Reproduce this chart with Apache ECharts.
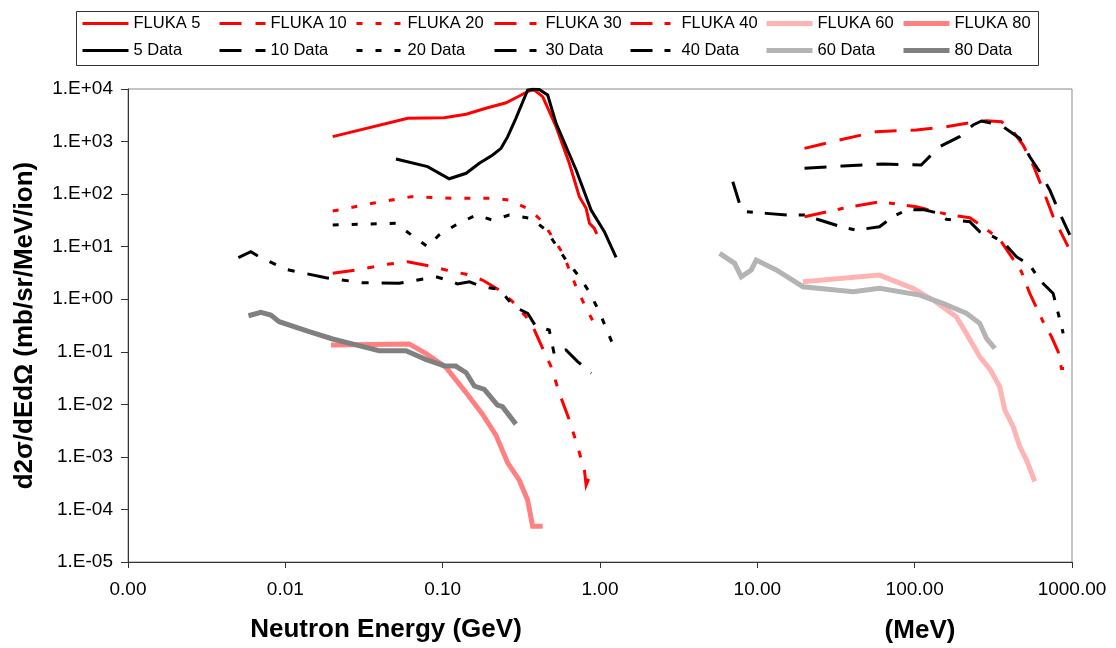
<!DOCTYPE html>
<html>
<head>
<meta charset="utf-8">
<script src="https://cdn.jsdelivr.net/npm/echarts@6/dist/echarts.min.js"></script>
<style>
html, body { margin: 0; padding: 0; background: #fff; }
#chart { width: 1116px; height: 648px; }
</style>
</head>
<body>
<div id="chart"></div>
<script>
var FONT = "'Liberation Sans', Arial, sans-serif";

// left part: GeV, right part: MeV (same log axis)
var fluka5 = [[0.020,1240],[0.060,2770],[0.102,2850],[0.141,3300],[0.188,4300],[0.253,5480],[0.307,7360],[0.356,9290],[0.383,9560],[0.432,7150],[0.526,1920],[0.638,385],[0.739,89],[0.816,53.6],[0.857,27.8],[0.921,22.3],[0.953,17.4]];
var fluka10 = [[19.95,743],[33.3,1072],[57,1542],[102.5,1660],[159,1920],[224,2285],[286,2500],[356,2390],[423,1542],[489,859],[566,358],[655,120],[759,37.2],[857,17.9],[944,10]];
var fluka20 = [[0.020,47.6],[0.0358,66.8],[0.0628,89],[0.1155,83],[0.208,83],[0.265,77],[0.356,51],[0.432,29.8],[0.580,7.47],[0.705,1.73],[0.816,0.67],[0.945,0.30]];
var fluka30 = [[0.020,3.11],[0.0281,3.6],[0.0457,4.68],[0.0598,5.18],[0.0822,4.29],[0.105,3.6],[0.141,2.98],[0.179,2.32],[0.229,1.50],[0.278,0.90],[0.339,0.464],[0.383,0.259],[0.432,0.116],[0.489,0.052],[0.552,0.0162],[0.639,0.0050],[0.721,0.00156],[0.796,0.00056],[0.816,0.00029],[0.865,0.00045]];
var fluka40 = [[19.95,37.2],[35,53.6],[59.8,71.6],[76.5,64.8],[102.5,57.5],[167,40],[224,35.6],[272,23.9],[347,13.8],[412,6.44],[477,3.34],[539,1.29],[655,0.373],[741,0.193],[817,0.100],[857,0.048],[923,0.048]];
var fluka60 = [[19.5,2.15],[59.8,2.88],[97.5,1.61],[131,0.966],[184,0.464],[213,0.224],[259,0.081],[303,0.045],[347,0.0216],[374,0.0078],[423,0.00375],[466,0.00156],[514,0.00087],[580,0.00034]];
var fluka80 = [[0.0195,0.135],[0.0613,0.141],[0.078,0.093],[0.105,0.0506],[0.141,0.0166],[0.179,0.0065],[0.218,0.0026],[0.259,0.00077],[0.307,0.00036],[0.347,0.00015],[0.373,0.000048],[0.432,0.000048]];

var data5 = [[0.0505,466],[0.0802,333],[0.110,196],[0.141,249],[0.171,385],[0.208,555],[0.235,743],[0.259,1240],[0.292,2770],[0.347,9560],[0.373,9900],[0.411,9800],[0.465,7690],[0.526,2220],[0.705,288],[0.878,49.8],[1.066,19.3],[1.265,6.27]];
var data10 = [[19.95,310],[35,343],[62.8,374],[110,358],[144,798],[193,1240],[235,2065],[266,2460],[300,2285],[364,1920],[465,1150],[539,515],[623,267],[722,120],[836,43],[968,16.7]];
var data20 = [[0.020,25.8],[0.0505,27.8],[0.0613,17.9],[0.0802,10],[0.095,16.7],[0.121,25.8],[0.163,40],[0.208,32],[0.265,40],[0.365,34.6],[0.454,20.7],[0.608,5.57],[0.739,2.68],[0.853,1.39],[0.99,0.578],[1.236,0.116]];
var data30 = [[0.00503,6.17],[0.00604,8.0],[0.00681,6.44],[0.0101,3.7],[0.0181,2.56],[0.0309,2.06],[0.0529,2.01],[0.0905,2.68],[0.1155,2.15],[0.124,1.95],[0.148,2.15],[0.179,1.73],[0.229,1.54],[0.285,0.72],[0.347,0.54],[0.392,0.30],[0.476,0.259],[0.513,0.087],[0.608,0.108],[0.721,0.065],[0.878,0.039]];
var data40 = [[6.98,172],[7.7,66.8],[8.5,46.3],[11.4,43],[15.6,40],[19.95,40],[24.9,32.1],[35,23.3],[42.6,20.7],[59.8,23.9],[72.8,37.2],[88.5,49.8],[113,51],[137,44.3],[159,33.1],[224,29.8],[259,19.3],[315,15.5],[364,12.4],[443,6.44],[539,4.48],[623,2.32],[759,1.29],[817,0.54],[879,0.224]];
var data60 = [[5.76,7.47],[7.17,4.82],[7.9,2.68],[9.15,3.6],[9.84,5.57],[13.2,3.6],[19.5,1.73],[40.6,1.39],[59.8,1.61],[108,1.20],[151,0.835],[213,0.54],[259,0.348],[286,0.18],[323,0.116]];
var data80 = [[0.00583,0.485],[0.00699,0.563],[0.00809,0.50],[0.00914,0.373],[0.01417,0.241],[0.020,0.175],[0.0281,0.135],[0.0395,0.105],[0.0584,0.105],[0.078,0.0718],[0.102,0.0543],[0.121,0.0535],[0.141,0.040],[0.159,0.0223],[0.184,0.0193],[0.223,0.0097],[0.240,0.0090],[0.292,0.0042]];

var flukaNames = ['FLUKA 5', 'FLUKA 10', 'FLUKA 20', 'FLUKA 30', 'FLUKA 40', 'FLUKA 60', 'FLUKA 80'];
var dataNames = ['5 Data', '10 Data', '20 Data', '30 Data', '40 Data', '60 Data', '80 Data'];

var DASH10 = [22, 14];
var DOT20 = [6, 13];
var DDD30 = [22, 13, 7, 13, 7, 13];
var DD40 = [22, 12, 6, 12];

function line(name, data, color, width, dash) {
    return {
        name: name,
        type: 'line',
        data: data,
        symbol: 'none',
        showSymbol: false,
        silent: true,
        lineStyle: { color: color, width: width, type: dash, cap: 'butt', join: 'miter' },
        itemStyle: { color: color }
    };
}

function expLabel(v) {
    var e = Math.round(Math.log10(v));
    return '1.E' + (e < 0 ? '-' : '+') + (Math.abs(e) < 10 ? '0' : '') + Math.abs(e);
}

// the key is a 7 x 2 table: one legend per cell so the columns line up
var legendCols = [81, 218, 355, 493, 629, 764, 901];
var legendRows = [15, 42];

function legendCell(name, left, top) {
    return {
        left: left,
        top: top,
        padding: 0,
        itemWidth: 46,
        itemHeight: 14,
        selectedMode: false,
        data: [name],
        itemStyle: { opacity: 0 },   // no marker in the key, only the line sample
        lineStyle: { width: 'inherit' },
        textStyle: { fontFamily: FONT, fontSize: 16.5, color: '#000' }
    };
}

var legends = [];
flukaNames.forEach(function (n, i) { legends.push(legendCell(n, legendCols[i], legendRows[0])); });
dataNames.forEach(function (n, i) { legends.push(legendCell(n, legendCols[i], legendRows[1])); });

var option = {
    animation: false,
    backgroundColor: '#fff',
    grid: { left: 128, right: 44, top: 89, bottom: 86, show: true, borderColor: '#8a8a8a', borderWidth: 1 },
    legend: legends,
    xAxis: {
        type: 'log',
        logBase: 10,
        min: 0.001,
        max: 1000,
        interval: 1,
        axisLine: { lineStyle: { color: '#333', width: 1 } },
        axisTick: { show: true, length: 6, lineStyle: { color: '#333' } },
        minorTick: { show: false },
        splitLine: { show: false },
        axisLabel: {
            margin: 18,
            fontFamily: FONT,
            fontSize: 19,
            color: '#000',
            formatter: function (v) { return v.toFixed(2); }
        }
    },
    yAxis: {
        type: 'log',
        logBase: 10,
        min: 0.00001,
        max: 10000,
        interval: 1,
        name: 'd2σ/dEdΩ (mb/sr/MeV/ion)',
        nameLocation: 'middle',
        nameRotate: 90,
        nameGap: 90,
        nameTextStyle: { fontFamily: FONT, fontSize: 26, fontWeight: 'bold', color: '#000' },
        axisLine: { show: true, lineStyle: { color: '#333', width: 1 } },
        axisTick: { show: true, length: 7, lineStyle: { color: '#333' } },
        minorTick: { show: false },
        splitLine: { show: false },
        axisLabel: {
            margin: 15,
            fontFamily: FONT,
            fontSize: 19,
            color: '#000',
            formatter: expLabel
        }
    },
    graphic: [
        {
            type: 'rect',
            left: 74, top: 9,
            shape: { width: 962, height: 54 },
            style: { fill: 'none', stroke: '#333', lineWidth: 1 },
            z: -1, silent: true
        },
        {
            type: 'text',
            x: 386, y: 630,
            style: { text: 'Neutron Energy (GeV)', font: 'bold 26px ' + FONT, fill: '#000', textAlign: 'center', textVerticalAlign: 'middle' }
        },
        {
            type: 'text',
            x: 920, y: 631,
            style: { text: '(MeV)', font: 'bold 26px ' + FONT, fill: '#000', textAlign: 'center', textVerticalAlign: 'middle' }
        }
    ],
    series: [
        line('FLUKA 5', fluka5, '#ff0000', 3, 'solid'),
        line('FLUKA 10', fluka10, '#ff0000', 3, DASH10),
        line('FLUKA 20', fluka20, '#ff0000', 3, DOT20),
        line('FLUKA 30', fluka30, '#ff0000', 3, DDD30),
        line('FLUKA 40', fluka40, '#ff0000', 3, DD40),
        line('FLUKA 60', fluka60, '#ffb4b4', 5, 'solid'),
        line('FLUKA 80', fluka80, '#ff8080', 5, 'solid'),
        line('5 Data', data5, '#000000', 3, 'solid'),
        line('10 Data', data10, '#000000', 3, DASH10),
        line('20 Data', data20, '#000000', 3, DOT20),
        line('30 Data', data30, '#000000', 3, DDD30),
        line('40 Data', data40, '#000000', 3, DD40),
        line('60 Data', data60, '#b4b4b4', 5, 'solid'),
        line('80 Data', data80, '#808080', 5, 'solid')
    ]
};

var chart = echarts.init(document.getElementById('chart'));
chart.setOption(option);
</script>
</body>
</html>
